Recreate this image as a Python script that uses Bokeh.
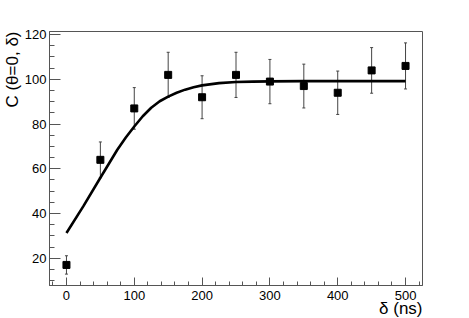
from bokeh.plotting import figure
from bokeh.models import ColumnDataSource, Whisker, TeeHead, FixedTicker, Title, Range1d
from bokeh.embed import file_html
from bokeh.resources import INLINE

# data
delta_ns = [0, 50, 100, 150, 200, 250, 300, 350, 400, 450, 500]
counts = [17, 64, 87, 102, 92, 102, 99, 97, 94, 104, 106]
count_err = [4.1, 8.0, 9.3, 10.1, 9.6, 10.1, 9.9, 9.8, 9.7, 10.2, 10.3]

fit_x = [0, 25, 50, 75, 87.5, 100, 112.5, 125, 137.5, 150, 162.5, 175, 187.5, 200,
         225, 250, 275, 300, 350, 400, 450, 500]
fit_y = [31.3, 43.3, 56.0, 68.5, 74.0, 78.9, 83.5, 87.3, 90.2, 92.3, 94.0, 95.4, 96.5, 97.3,
         98.3, 98.8, 99.0, 99.1, 99.2, 99.2, 99.2, 99.2]

x_major = [0, 100, 200, 300, 400, 500]
y_major = [20, 40, 60, 80, 100, 120]
x_minor = [-20, 20, 40, 60, 80, 120, 140, 160, 180, 220, 240, 260, 280,
           320, 340, 360, 380, 420, 440, 460, 480, 520]
y_minor = [10, 15, 25, 30, 35, 45, 50, 55, 65, 70, 75, 85, 90, 95, 105, 110, 115]

FONT = "Liberation Sans"

p = figure(width=453, height=318, output_backend="svg", toolbar_location=None,
           x_range=Range1d(-25, 525), y_range=Range1d(7.8, 121.4),
           min_border_left=47, min_border_right=31, min_border_top=31, min_border_bottom=33)
p.grid.visible = False
p.outline_line_color = "#555555"
p.outline_line_width = 1
p.background_fill_color = "white"
p.border_fill_color = "white"

p.xaxis.ticker = FixedTicker(ticks=x_major, minor_ticks=x_minor)
p.yaxis.ticker = FixedTicker(ticks=y_major, minor_ticks=y_minor)

for ax, maj, mino in ((p.xaxis, 8, 4), (p.yaxis, 11, 5)):
    ax.major_tick_in = maj
    ax.major_tick_out = 0
    ax.minor_tick_in = mino
    ax.minor_tick_out = 0
    ax.axis_line_color = "#555555"
    ax.major_tick_line_color = "#555555"
    ax.minor_tick_line_color = "#555555"
    ax.major_label_text_font = FONT
    ax.major_label_text_font_size = "13px"
    ax.major_label_text_color = "black"
p.xaxis.major_label_standoff = 5
p.yaxis.major_label_standoff = 3

src = ColumnDataSource(dict(x=delta_ns, y=counts,
                            lo=[c - e for c, e in zip(counts, count_err)],
                            hi=[c + e for c, e in zip(counts, count_err)]))
fit_src = ColumnDataSource(dict(x=fit_x, y=fit_y))

w = Whisker(source=src, base="x", lower="lo", upper="hi",
            line_color="#444444", line_width=1,
            upper_head=TeeHead(size=3, line_color="#444444", line_width=1),
            lower_head=TeeHead(size=3, line_color="#444444", line_width=1))
p.add_layout(w)

p.line("x", "y", source=fit_src, line_color="black", line_width=2.6)
p.scatter("x", "y", source=src, marker="square", size=7, fill_color="black", line_color="black")

ytitle = Title(text="C (θ=0, δ)", align="right", text_font=FONT, text_font_size="17px",
               text_font_style="normal", text_color="black", standoff=0)
xtitle = Title(text="δ (ns)", align="right", vertical_align="top", text_font=FONT,
               text_font_size="17px", text_font_style="normal", text_color="black", standoff=-7)
p.add_layout(ytitle, "left")
p.add_layout(xtitle, "below")

open("out.html", "w").write(file_html(p, INLINE))
